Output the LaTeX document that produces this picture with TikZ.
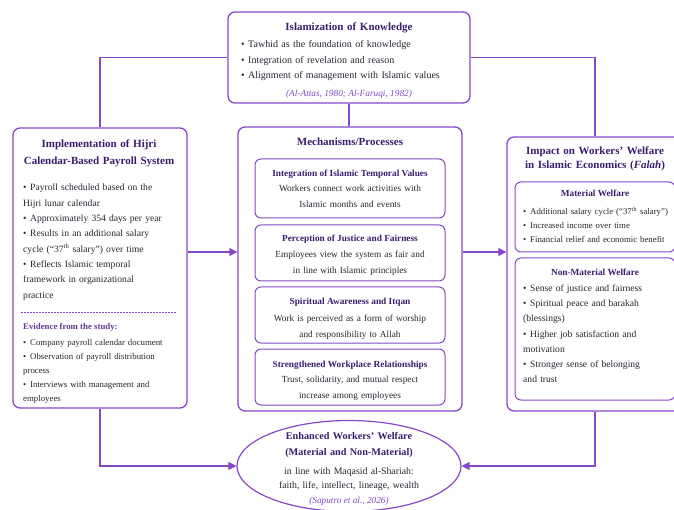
\documentclass[tikz,border=0pt]{standalone}
\usepackage{fontspec}
\setmainfont{Liberation Serif}
\usepackage{tikz}
\usetikzlibrary{arrows.meta, shapes.geometric, fit}
\definecolor{purp}{RGB}{134,72,200}
\definecolor{headc}{RGB}{58,28,110}
\definecolor{citec}{RGB}{128,74,196}
\definecolor{bodyc}{RGB}{40,36,48}
\newcommand{\bul}[1]{\hangindent=7pt\hangafter=1\noindent\makebox[7pt][l]{\textbullet}#1\par}
\tikzset{
  outerbox/.style = {draw=purp, line width=1.3pt, rounded corners=7pt,
    inner sep=0pt},
  innerbox/.style = {draw=purp, line width=1pt, rounded corners=6pt,
    inner sep=0pt},
  head/.style = {align=center, inner sep=0pt, text=headc, text width=200pt,
    font=\fontsize{11}{17}\selectfont\bfseries},
  subhead/.style = {align=center, inner sep=0pt, text=headc,
    font=\fontsize{9.3}{14}\selectfont\bfseries},
  bodytext/.style = {align=center, inner sep=0pt, text=bodyc, text width=190pt,
    font=\fontsize{9.3}{16}\selectfont},
  bullets/.style = {align=left, inner sep=0pt, text=bodyc, text width=#1},
  cite/.style = {inner sep=0pt, text=citec, font=\fontsize{9.3}{12}\selectfont\itshape},
  conn/.style = {draw=purp, line width=1.3pt},
  arr/.style = {conn, -{Triangle[length=8pt,width=8pt]}}
}

\begin{document}
\begin{tikzpicture}[x=1pt, y=-1pt]
\useasboundingbox (0,0) rectangle (674,510);
% frames
\node[outerbox, fit={(228,12) (470,103)}] (iok) {};
\node[outerbox, fit={(13,128) (187,408)}] (impl) {};
\node[outerbox, fit={(238,127) (462,411)}] (mech) {};
\node[outerbox, fit={(507,137) (683,411)}] (impact) {};
\node[innerbox, fit={(255,159) (445,218)}] (temporal) {};
\node[innerbox, fit={(255,225) (445,281)}] (justice) {};
\node[innerbox, fit={(255,287) (445,343)}] (itqan) {};
\node[innerbox, fit={(255,349) (445,405)}] (relation) {};
\node[innerbox, fit={(515,182) (675,252)}] (material) {};
\node[innerbox, fit={(515,258) (675,400)}] (nonmat) {};
\node[draw=purp, line width=1.2pt, ellipse, minimum width=224pt,
  minimum height=91pt, inner sep=0pt] (welf) at (349,466) {};

% Islamization of Knowledge
\node[head, anchor=base] (iokt) at (349,31) {Islamization of Knowledge};
\node[bullets=225pt, anchor=base west, font=\fontsize{10}{15.5}\selectfont] (iokb) at (241,48)
  {\bul{Tawhid as the foundation of knowledge}
   \bul{Integration of revelation and reason}
   \bul{Alignment of management with Islamic values}};
\node[cite, anchor=base] (iokc) at (349,97) {(Al-Attas, 1980; Al-Faruqi, 1982)};

% Implementation
\node[head, anchor=base, text width=172pt] (implt) at (99,148)
  {Implementation of Hijri\\Calendar-Based Payroll System};
\node[bullets=165pt, anchor=base west, font=\fontsize{9.6}{15.3}\selectfont] (implb) at (23,191)
  {\bul{Payroll scheduled based on the\\Hijri lunar calendar}
   \bul{Approximately 354 days per year}
   \bul{Results in an additional salary\\cycle (“37\textsuperscript{th} salary”) over time}
   \bul{Reflects Islamic temporal\\framework in organizational\\practice}};
\draw[purp, line width=0.8pt, dash pattern=on 1.5pt off 1.5pt]
  ([xshift=9pt]impl.west |- implb.south) ++(0,12) coordinate (sepl)
  -- ([xshift=-12pt]impl.east |- sepl);
\node[inner sep=0pt, anchor=base west, text=purp!75!black,
  font=\fontsize{8.8}{12}\selectfont\bfseries] (evid) at (23,330) {Evidence from the study:};
\node[bullets=165pt, anchor=base west, font=\fontsize{8.8}{14}\selectfont] (evidb) at (23,345)
  {\bul{Company payroll calendar document}
   \bul{Observation of payroll distribution\\process}
   \bul{Interviews with management and\\employees}};

% Mechanisms
\node[head, anchor=base] (mecht) at (350,146) {Mechanisms/Processes};
\node[subhead, anchor=base] (temporalt) at (350,177) {Integration of Islamic Temporal Values};
\node[bodytext, anchor=base] (temporalb) at (350,192)
  {Workers connect work activities with\\Islamic months and events};
\node[subhead, anchor=base] (justicet) at (350,242) {Perception of Justice and Fairness};
\node[bodytext, anchor=base] (justiceb) at (350,258)
  {Employees view the system as fair and\\in line with Islamic principles};
\node[subhead, anchor=base] (itqant) at (350,305) {Spiritual Awareness and Itqan};
\node[bodytext, anchor=base] (itqanb) at (350,321)
  {Work is perceived as a form of worship\\and responsibility to Allah};
\node[subhead, anchor=base] (relationt) at (350,367) {Strengthened Workplace Relationships};
\node[bodytext, anchor=base] (relationb) at (350,382)
  {Trust, solidarity, and mutual respect\\increase among employees};

% Impact
\node[head, anchor=base, font=\fontsize{11}{13.6}\selectfont\bfseries] (impactt) at (595,155)
  {Impact on Workers’ Welfare\\in Islamic Economics (\textit{Falah})};
\node[subhead, anchor=base] (materialt) at (595,197) {Material Welfare};
\node[bullets=160pt, anchor=base west, font=\fontsize{8.8}{13.6}\selectfont] (materialb) at (523,215)
  {\bul{Additional salary cycle (“37\textsuperscript{th} salary”)}
   \bul{Increased income over time}
   \bul{Financial relief and economic benefit}};
\node[subhead, anchor=base] (nonmatt) at (595,276) {Non-Material Welfare};
\node[bullets=145pt, anchor=base west, font=\fontsize{9.6}{15}\selectfont] (nonmatb) at (523,292)
  {\bul{Sense of justice and fairness}
   \bul{Spiritual peace and barakah\\(blessings)}
   \bul{Higher job satisfaction and\\motivation}
   \bul{Stronger sense of belonging\\and trust}};

% Enhanced welfare
\node[head, anchor=base, font=\fontsize{10.2}{16}\selectfont\bfseries] (welft) at (349,439)
  {Enhanced Workers’ Welfare\\(Material and Non-Material)};
\node[bodytext, anchor=base, font=\fontsize{9.8}{14}\selectfont] (welfb) at (349,474)
  {in line with Maqasid al-Shariah:\\faith, life, intellect, lineage, wealth};
\node[cite, anchor=base] (welfc) at (349,503) {(Saputro et al., 2026)};

% connectors
\coordinate (midrow) at (0,252);
\draw[conn] (iok.west) -| (impl.north);
\draw[conn] (iok.east) -| (impact.north);
\draw[conn] (iok.south) -- (iok.south |- mech.north);
\draw[arr] (impl.east |- midrow) -- (mech.west |- midrow);
\draw[arr] (mech.east |- midrow) -- (impact.west |- midrow);
\draw[arr] (impl.south) |- (welf.west);
\draw[arr] (impact.south) |- (welf.east);
\end{tikzpicture}
\end{document}
